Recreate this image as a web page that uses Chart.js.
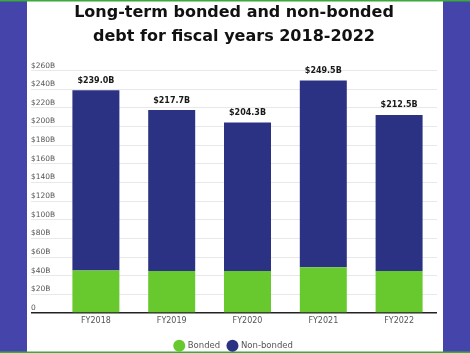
<!DOCTYPE html>
<html><head><meta charset="utf-8">
<script src="https://cdn.jsdelivr.net/npm/chart.js@4"></script>
<style>html,body{margin:0;padding:0;background:#fff}#wrap{width:470px;height:353px;position:relative}</style>
</head><body><div id="wrap"><canvas id="c" width="470" height="353"></canvas></div>
<script>
const categories = ['FY2018','FY2019','FY2020','FY2021','FY2022'];
const bonded = [45.7, 45.0, 45.0, 49.0, 45.0];
const nonBonded = [193.3, 172.7, 159.3, 200.5, 167.5];
const totalLabels = ['$239.0B','$217.7B','$204.3B','$249.5B','$212.5B'];
const titleLines = ['Long-term bonded and non-bonded','debt for fiscal years 2018-2022'];
const FONT = "'DejaVu Sans', sans-serif";

const bgPlugin = {
  id:'bg',
  beforeDraw(chart){
    const c = chart.ctx, w = chart.width, h = chart.height;
    c.save();
    c.fillStyle = '#ffffff'; c.fillRect(0,0,w,h);
    c.fillStyle = '#4444aa';
    c.fillRect(0,0,27,h);
    c.fillRect(443,0,w-443,h);
    c.fillStyle = '#3aaa3a';
    c.fillRect(0,0,w,1.5);
    c.fillRect(0,h-1.5,w,1.5);
    c.restore();
  }
};
const totalsPlugin = {
  id:'totals',
  afterDatasetsDraw(chart){
    const meta = chart.getDatasetMeta(1);
    const c = chart.ctx;
    c.save();
    c.font = "bold 8px " + FONT;
    c.fillStyle = '#1a1a1a';
    c.textAlign = 'center'; c.textBaseline = 'middle';
    meta.data.forEach((el,i)=>{ c.fillText(totalLabels[i], el.x, el.y - 9.5); });
    c.restore();
  }
};

new Chart(document.getElementById('c'), {
  type:'bar',
  data:{ labels: categories, datasets:[
    {label:'Bonded', data: bonded, backgroundColor:'#68c92f', stack:'s'},
    {label:'Non-bonded', data: nonBonded, backgroundColor:'#2c3283', stack:'s'}
  ]},
  plugins:[bgPlugin, totalsPlugin],
  options:{
    responsive:false, animation:false,
    layout:{padding:{left:31,right:33,top:0,bottom:-7}},
    datasets:{bar:{categoryPercentage:1, barPercentage:0.62, borderWidth:0}},
    scales:{
      x:{ stacked:true,
        grid:{display:false, drawTicks:false},
        border:{display:false},
        ticks:{color:'#555', font:{family:FONT, size:8}, padding:3},
        afterFit(s){ s.height = 20.5; }
      },
      y:{ stacked:true, min:0, max:260,
        grid:{ color: ctx => ctx.tick && ctx.tick.value===0 ? '#222' : '#e8e8e8', lineWidth: ctx => ctx.tick && ctx.tick.value===0 ? 1.5 : 1, tickLength:27, tickColor: ctx => ctx.tick && ctx.tick.value===0 ? '#222' : '#e8e8e8'},
        border:{display:false},
        ticks:{ stepSize:20, color:'#555', font:{family:FONT, size:7.5}, crossAlign:'far', labelOffset:-5, padding:0,
          callback: v => v===0 ? '0' : '$' + v + 'B' },
        afterFit(s){ s.width = 27; }
      }
    },
    plugins:{
      title:{display:true, text:titleLines, color:'#111', font:{family:FONT, size:16, weight:'bold', lineHeight:1.55}, padding:{top:0,bottom:21}},
      legend:{position:'bottom', labels:{usePointStyle:true, pointStyle:'circle', boxWidth:9, boxHeight:9, color:'#555', font:{family:FONT, size:8.5}, padding:8}},
      tooltip:{enabled:false}
    }
  }
});
</script></body></html>
